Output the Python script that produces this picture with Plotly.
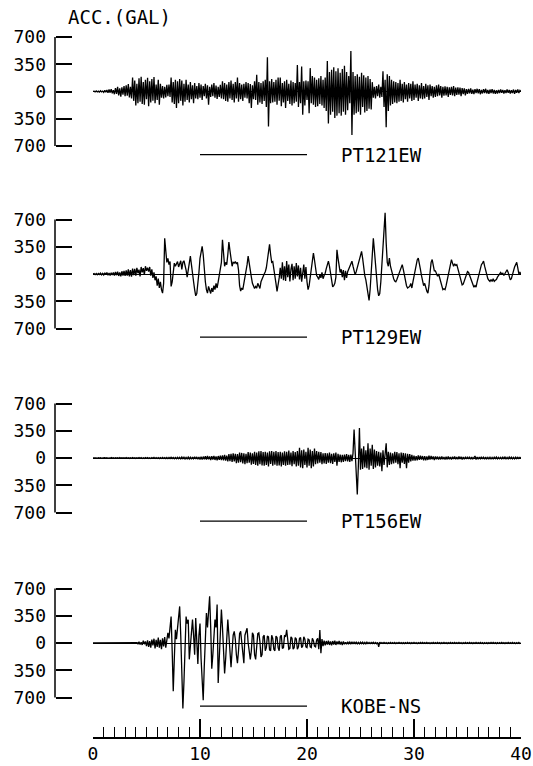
import plotly.graph_objects as go

# ---------------- data (gal), sampled every 0.1 s, one row per second ----------------
station_names = ["PT121EW", "PT129EW", "PT156EW", "KOBE-NS"]
y_tick_values = [-700, -350, 0, 350, 700]
y_tick_labels = ["700", "350", "0", "350", "700"]
x_tick_values = [0, 10, 20, 30, 40]
x_tick_labels = ["0", "10", "20", "30", "40"]
scale_bar_seconds = [10, 20]
y_title = "ACC.(GAL)"

pt121ew = [
    [0, 5, -5, 8, -6, 4, -8, 10, -6, 5],
    [-12, 15, -10, 20, -18, 25, -15, 30, -22, 18],
    [-35, 45, -30, 60, -50, 40, -65, 55, -40, 70],
    [-60, 80, -55, 95, -75, 60, -90, 180, -120, 140],
    [-180, 100, -150, 170, -130, 190, -160, 120, -170, 150],
    [-100, 175, -190, 130, -140, 160, -120, 185, -150, 90],
    [-110, 150, -170, 100, -80, 70, -90, 60, -75, 85],
    [-60, 90, -70, 180, -140, 120, -160, 150, -210, 130],
    [-150, 160, -120, 140, -180, 100, -130, 150, -110, 90],
    [-140, 120, -100, 80, -150, 110, -90, 70, -100, 110],
    [-80, 90, -110, 70, -60, 100, -90, 80, -170, 60],
    [-70, 90, -60, 110, -80, 75, -95, 60, -70, 85],
    [-90, 130, -100, 110, -120, 90, -130, 120, -90, 140],
    [-110, 100, -140, 120, -90, 180, -130, 110, -100, 90],
    [-120, 100, -80, 120, -90, 110, -150, 95, -210, 80],
    [-100, 130, -110, 215, -170, 120, -140, 110, -160, 130],
    [-120, 150, -200, 440, -450, 130, -150, 160, -140, 120],
    [-130, 150, -170, 180, -120, 180, -190, 110, -140, 130],
    [-210, 150, -120, 100, -160, 140, -180, 120, -150, 110],
    [-130, 340, -200, 120, -150, 320, -300, 130, -180, 140],
    [-110, 130, -280, 300, -150, 200, -170, 180, -200, 150],
    [-190, 170, -160, 200, -180, 150, -210, 180, -250, 390],
    [-410, 250, -300, 280, -260, 310, -340, 260, -310, 300],
    [-280, 240, -310, 290, -260, 330, -300, 250, -240, 200],
    [-150, 520, -560, 250, -300, 200, -280, 220, -260, 190],
    [-300, 240, -200, 210, -270, 180, -250, 200, -220, 160],
    [-230, 120, -80, 60, -90, 70, -60, 90, -80, 60],
    [-70, 260, -200, 150, -460, 220, -250, 200, -180, 150],
    [-160, 130, -140, 120, -150, 110, -130, 150, -120, 100],
    [-140, 120, -100, 90, -130, 110, -90, 100, -120, 130],
    [-110, 90, -80, 100, -120, 80, -90, 110, -100, 70],
    [-90, 100, -70, 80, -110, 90, -60, 70, -80, 60],
    [-70, 80, -60, 90, -50, 70, -80, 60, -55, 65],
    [-50, 60, -70, 55, -45, 60, -50, 70, -60, 50],
    [-45, 55, -40, 50, -60, 45, -35, 40, -50, 30],
    [-30, 35, -25, 40, -30, 25, -35, 30, -20, 35],
    [-25, 30, -35, 20, -25, 30, -20, 35, -25, 20],
    [-30, 25, -20, 30, -25, 20, -30, 15, -25, 20],
    [-20, 25, -15, 20, -25, 15, -20, 25, -15, 20],
    [-25, 15, -20, 25, -30, 20, -15, 25, -20, 15],
    [0],
]

pt129ew = [
    [0, 5, -8, 6, -10, 8, -6, 12, -10, 8],
    [-12, 15, -8, 18, -15, 12, -20, 16, -12, 20],
    [-20, 25, -15, 30, -25, 20, -30, 35, -20, 40],
    [-25, 45, -20, 60, -30, 50, -35, 70, -15, 65],
    [-20, 80, 10, 55, -30, 90, 20, 75, -10, 100],
    [40, 80, 30, 90, -20, 60, -50, 20, -80, -30],
    [-150, -60, -180, -100, -200, -245, -120, 460, 300, 150],
    [200, 120, 160, -160, -100, 60, 140, 100, 130, 160],
    [90, 120, 170, 60, 150, 170, 120, 50, -40, 60],
    [150, 230, 120, -20, -100, -200, -280, -250, -150, 20],
    [200, 270, 355, 250, 50, -100, -200, -245, -160, -220],
    [-250, -180, -230, -150, -200, -120, -180, -100, -30, 50],
    [150, 440, 200, 100, 150, 120, 250, 410, 300, 150],
    [100, 150, 140, 160, 130, 150, 50, -150, -220, -180],
    [-200, -120, -50, 40, 120, 230, 120, 50, -40, -120],
    [-150, -185, -160, -180, -120, -150, -185, -100, -60, -20],
    [0, 30, 80, 180, 300, 380, 250, 150, 160, 80],
    [-20, -120, -225, -150, -50, 80, -60, 150, -80, 100],
    [-90, 165, -40, 120, -95, 60, 130, -80, 100, -60],
    [140, -30, 110, -70, 80, -100, 50, 120, -60, 90],
    [-100, -200, -150, -50, 50, 150, 270, 180, 60, -20],
    [-40, -70, -10, -50, 20, -60, -20, 10, 70, 120],
    [165, 100, 20, -60, -165, -150, -120, -40, 310, 200],
    [80, 20, 60, -40, 50, -80, 40, -50, 30, 60],
    [100, 120, 165, 100, 40, -10, 30, 80, 150, 210],
    [260, 290, 200, 80, -20, -75, -150, -260, -340, -200],
    [50, 250, 460, 300, 100, -80, -200, -280, -250, -100],
    [100, 300, 550, 785, 400, 150, 100, 205, 100, 30],
    [-20, -60, -90, -100, -70, -30, 20, 60, 90, 120],
    [60, -20, -100, -150, -180, -170, -160, -120, -180, -100],
    [-20, 60, 140, 180, 205, 150, 60, -20, -80, -150],
    [-120, -180, -220, -245, -150, 20, 150, 185, 120, 40],
    [40, 0, -30, 0, -60, -120, -170, -200, -190, -200],
    [-150, -80, 0, 80, 150, 185, 140, 100, 130, 110],
    [120, 60, 0, -60, -100, -140, -130, -90, -40, 0],
    [30, 20, -20, -60, -100, -140, -170, -150, -170, -100],
    [-40, 20, 80, 120, 140, 165, 100, 40, -20, -60],
    [-80, -95, -70, -95, -60, -95, -80, -70, -40, -20],
    [-10, 20, 0, 10, -20, 0, 30, 55, 20, -30],
    [-75, -60, -20, 40, 90, 130, 150, 80, 0, 20],
    [0],
]

pt156ew = [
    [0, 2, -3, 2, -4, 3, -2, 4, -3, 2],
    [-3, 4, -2, 3, -4, 2, -3, 5, -2, 3],
    [-4, 3, -2, 4, -3, 5, -4, 3, -2, 4],
    [-3, 5, -4, 3, -5, 4, -3, 5, -4, 3],
    [-5, 4, -3, 6, -4, 5, -6, 4, -5, 6],
    [-4, 6, -5, 4, -6, 5, -4, 7, -5, 6],
    [-6, 5, -7, 6, -5, 8, -6, 5, -7, 6],
    [-8, 6, -7, 9, -6, 8, -9, 7, -8, 10],
    [-9, 8, -10, 12, -8, 10, -12, 9, -10, 12],
    [-12, 10, -14, 12, -10, 15, -12, 14, -15, 12],
    [-18, 15, -20, 18, -15, 22, -20, 25, -18, 20],
    [-25, 22, -20, 28, -25, 20, -30, 25, -22, 30],
    [-28, 35, -30, 40, -35, 30, -45, 50, -40, 55],
    [-50, 60, -45, 55, -65, 50, -60, 70, -55, 65],
    [-70, 60, -80, 55, -65, 75, -60, 70, -85, 60],
    [-75, 80, -90, 70, -100, 85, -80, 90, -95, 75],
    [-100, 80, -90, 70, -110, 85, -75, 90, -100, 80],
    [-85, 90, -100, 75, -95, 80, -110, 70, -90, 85],
    [-100, 80, -90, 95, -85, 70, -105, 90, -80, 75],
    [-110, 90, -100, 130, -120, 100, -130, 110, -90, 80],
    [-120, 130, -100, 110, -130, 90, -110, 120, -80, 90],
    [-70, 80, -60, 75, -80, 60, -70, 65, -75, 60],
    [-60, 70, -65, 55, -75, 60, -50, 70, -100, 55],
    [-50, 45, -55, 40, -50, 45, -40, 50, -45, 40],
    [-50, 45, -40, 60, 365, 100, -200, -470, -100, 385],
    [-150, 120, -140, 150, -120, 100, -130, 190, -150, 120],
    [-100, 170, -140, 110, -120, 90, -100, 80, -110, 70],
    [-170, 100, -90, 120, 190, -120, 80, -90, 70, -80],
    [60, -70, 80, -60, 75, -80, 60, -130, 70, -60],
    [65, -75, 60, -130, 55, -60, 50, -45, 40, -35],
    [30, -35, 25, -30, 35, -25, 30, -20, 25, -30],
    [25, -30, 20, -25, 30, -20, 25, -15, 20, -25],
    [20, -15, 18, -20, 15, -18, 20, -15, 12, -18],
    [15, -18, 20, -15, 12, -18, 15, -12, 18, -15],
    [12, -15, 18, -12, 15, -18, 12, -15, 10, -12],
    [15, -12, 10, -15, 12, -10, 15, 25, -20, 12],
    [-15, 12, -10, 15, -12, 10, -15, 12, -10, 8],
    [-12, 10, -15, 8, -12, 10, -8, 12, -10, 8],
    [-10, 8, -12, 10, -8, 12, -10, 8, -10, 12],
    [-8, 10, -12, 8, -10, 12, -8, 10, -6, 8],
    [0],
]

kobe_ns = [
    [0, 0, 0, 0, 0, 0, 0, 0, 0, 0],
    [0, 0, 0, 0, 0, 0, 0, 0, 0, 0],
    [0, 0, 0, 0, 0, 0, 0, 0, 0, 0],
    [0, 0, 0, 0, 0, 0, 0, 0, 0, 0],
    [0, 5, -10, 15, -20, 10, -25, 30, -15, 20],
    [-40, 35, -50, 25, -60, 45, -30, 55, -70, 40],
    [-50, 70, -60, 40, -80, 60, -45, 75, -60, 80],
    [130, 60, 200, 340, -100, -620, -200, 170, 50, 200],
    [350, 470, 100, -400, -840, -500, 100, 340, 250, 300],
    [-210, -50, 150, 300, 100, -150, 320, -100, -270, 100],
    [250, -200, -500, -735, -300, 100, 385, 200, 450, 600],
    [200, -330, -150, 100, 300, 200, 495, -515, -200, 100],
    [430, 200, -100, -390, -200, 100, 300, 100, -200, -310],
    [-100, 100, 150, 50, -150, -260, -100, 120, 150, 0],
    [-200, -260, 100, 150, 190, 0, -150, -210, -100, 130],
    [100, -150, -210, -80, 120, 130, 20, -180, -150, 80],
    [100, -100, -60, 90, 80, -90, -100, 100, 60, -80],
    [-100, 90, 70, -60, -100, 80, 100, -70, -60, 100],
    [80, 170, 60, -80, -70, 80, 60, -80, -60, 70],
    [50, -80, -50, 60, 70, -60, -40, 80, 50, -50],
    [-60, 50, 40, -50, -60, 60, 30, -40, -50, 40],
    [60, -80, 165, -130, 50, -40, 30, -30, 25, -20],
    [30, -25, 20, -30, 25, -20, 30, -25, 20, -15],
    [25, -20, 15, -25, 20, -15, 10, -15, 15, -10],
    [12, -10, 15, -12, 10, -8, 12, -10, 8, -10],
    [10, -8, 12, -10, 8, -12, 10, -8, 6, -8],
    [8, -6, 10, -8, 6, -10, 8, -50, 10, -6],
    [5, -6, 8, -5, 6, -8, 5, -6, 7, -5],
    [6, -5, 7, -8, 5, -6, 8, -5, 6, -7],
    [5, -7, 6, -5, 8, -6, 5, -7, 6, -5],
    [7, -5, 6, -8, 5, -6, 7, -5, 8, -6],
    [5, -6, 7, -5, 6, -8, 5, -6, 7, -5],
    [6, -5, 8, -6, 5, -7, 6, -5, 7, -6],
    [5, -7, 6, -5, 8, -6, 5, -6, 7, -5],
    [6, -5, 7, -6, 5, -8, 6, -5, 7, -6],
    [5, -6, 8, -5, 6, -7, 5, -6, 7, -5],
    [6, -5, 7, -6, 5, -8, 6, -5, 6, -7],
    [5, -6, 7, -5, 8, -6, 5, -7, 6, -5],
    [6, -5, 7, -6, 5, -7, 6, -5, 8, -6],
    [5, -6, 7, -5, 6, -8, 5, -6, 7, -5],
    [0],
]

records = [pt121ew, pt129ew, pt156ew, kobe_ns]

# ---------------- layout geometry (pixels) ----------------
W, H = 533, 766
FONT = "DejaVu Sans Mono"
x0_px, x40_px = 93, 521
yaxis_px = 55
zero_px = [91.5, 274, 458, 643]
half_px = 1000 * 54.5 / 700          # pixels for 1000 gal
xaxis_px = 738

fig = go.Figure()
for i, rec in enumerate(records):
    vals = [v for row in rec for v in row]
    t = [round(k * 0.1, 1) for k in range(len(vals))]
    yname = "y" if i == 0 else f"y{i + 1}"
    fig.add_trace(go.Scatter(x=t, y=vals, mode="lines", xaxis="x", yaxis=yname,
                             line=dict(color="black", width=1.3), showlegend=False,
                             hoverinfo="skip"))
    dom = [1 - (zero_px[i] + half_px) / H, 1 - (zero_px[i] - half_px) / H]
    ax = dict(domain=dom, range=[-1000, 1000], anchor="free", position=yaxis_px / W,
              automargin=False,
              showline=False, showgrid=False, zeroline=True, zerolinecolor="black",
              zerolinewidth=1.2, ticks="inside", ticklen=16, tickwidth=1.5,
              tickcolor="black", tickvals=y_tick_values, ticktext=y_tick_labels,
              tickfont=dict(family=FONT, size=18, color="black"),
              ticklabelstandoff=9, fixedrange=True)
    fig.update_layout(**{("yaxis" if i == 0 else f"yaxis{i + 1}"): ax})
    # vertical axis line from -700 to 700
    fig.add_shape(type="line", xref="paper", yref=yname, x0=yaxis_px / W, x1=yaxis_px / W,
                  y0=-700, y1=700, line=dict(color="black", width=1.5))
    # 10-second scale bar
    fig.add_shape(type="line", xref="x", yref=yname, x0=scale_bar_seconds[0],
                  x1=scale_bar_seconds[1], y0=-810, y1=-810,
                  line=dict(color="black", width=1.2))
    fig.add_annotation(x=23, y=-810, xref="x", yref=yname, text=station_names[i],
                       showarrow=False, xanchor="left", yanchor="middle",
                       font=dict(family=FONT, size=19, color="black"))

fig.add_annotation(x=66 / W, y=1 - 17 / H, xref="paper", yref="paper", text=y_title,
                   showarrow=False, xanchor="left", yanchor="middle",
                   font=dict(family=FONT, size=19, color="black"))

fig.update_layout(
    width=W, height=H, margin=dict(l=0, r=0, t=0, b=0, autoexpand=False),
    paper_bgcolor="white", plot_bgcolor="white",
    xaxis=dict(domain=[x0_px / W, x40_px / W], range=[0, 40], anchor="free",
               automargin=False,
               position=1 - xaxis_px / H, showline=True, linecolor="black", linewidth=1.5,
               showgrid=False, zeroline=False, ticks="inside", ticklen=18, tickwidth=1.5,
               tickcolor="black", tickvals=x_tick_values, ticktext=x_tick_labels,
               tickfont=dict(family=FONT, size=18, color="black"),
               ticklabeloverflow="allow",
               minor=dict(ticks="inside", ticklen=10, tickwidth=1.2, tickcolor="black",
                          dtick=1, showgrid=False),
               fixedrange=True),
)

fig.write_html(
    "out.html",
    config={"displayModeBar": False},
    post_script=(
        "document.body.style.margin='0px';document.body.style.overflow='hidden';"
    ),
)
